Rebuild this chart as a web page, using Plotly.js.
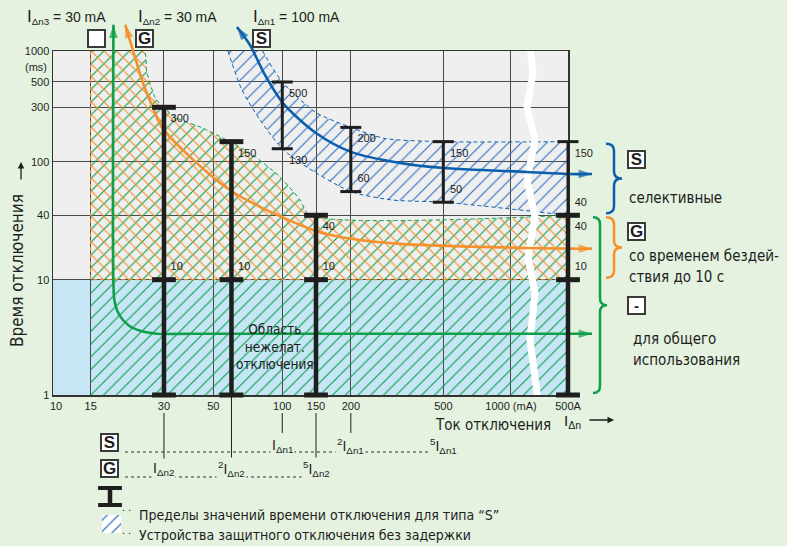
<!DOCTYPE html>
<html><head><meta charset="utf-8">
<script src="https://cdn.plot.ly/plotly-3.0.1.min.js"></script>
<style>html,body{margin:0;padding:0;background:#e4f2df;}#chart{width:787px;height:546px;}</style>
</head><body><div id="chart"></div>
<script>
// ================= DATA =================
const xTickValues = [10, 15, 30, 50, 100, 150, 200, 500, 1000, 500000];   // mA (500000 mA = 500 A)
const xTickLabels = ['\u00a0\u00a010', '15', '30', '50', '100', '150', '200', '500', '1000 (mA)', '500A'];
const yTickValues = [1, 10, 40, 100, 300, 500, 1000];                     // ms
const yTickLabels = ['1', '10', '40', '100', '300', '500', '1000'];

const ratingS = 100;        // IΔn1, type S
const ratingG = 30;         // IΔn2, type G
const ratingGeneral = 30;   // IΔn3, general use
const multiples = [1, 2, 5];

// type G / general-use limit bars (mA, ms)
const gBarCurrent = [30, 60, 150, 500000];
const gBarMax = [300, 150, 40, 40];
const gBarMin = [10, 10, 10, 10];
const generalMin = 1;
// type S limit bars
const sBarCurrent = [100, 200, 500, 500000];
const sBarMax = [500, 200, 150, 150];
const sBarMin = [130, 60, 50, 40];

// zone of unwanted tripping (t < 10 ms)
const noTripLimit = 10;
// left limit of the non-selective zone
const zoneMinCurrent = 15;
// non-selective (G / general) zone upper boundary
const nonSelI = [24.8, 25.5, 28, 34.3, 44.9, 72.3, 97.7, 123.7, 139.5];
const nonSelT = [1000, 625, 347, 242, 197, 119, 77, 52, 40];
const gZoneTop = 40;
// type S band
const bandUpperI = [82, 100, 150, 200, 280, 500, 500000];
const bandUpperT = [1000, 500, 270, 200, 160, 150, 150];
const bandLowerI = [57.9, 66.7, 80, 100, 134.6, 200, 300, 500, 500000];
const bandLowerT = [1000, 425, 232, 130, 91, 60, 52, 50, 40];
// indicative curves
const greenCurveI = [18.6, 18.6, 18.8, 19.6, 21.5, 24, 28, 40, 500000];
const greenCurveT = [1800, 9, 6.5, 5, 4, 3.6, 3.4, 3.4, 3.4];
const orangeCurveI = [20.8, 22.4, 24.6, 27, 29.6, 59, 144.6, 183, 326, 5775, 500000];
const orangeCurveT = [1800, 1000, 490, 300, 197, 61.6, 29.1, 25.1, 21.6, 19.8, 19.5];
const blueCurveI = [63.4, 72.3, 84, 100.8, 150, 200, 326, 500, 5775, 500000];
const blueCurveT = [1711, 1143, 585, 327, 178.5, 122, 97.8, 89.8, 83.9, 81];

// ================= LAYOUT HELPERS =================
const W = 787, H = 546, PL = 53, PR = 568, PT = 51, PB = 395;
const PW = PR - PL, PH = PB - PT;
const X_POS = [0, 0.0732, 0.2155, 0.3113, 0.4452, 0.5107, 0.5783, 0.7579, 0.8893, 1];
const Y_POS = [0, 0.3352, 0.5224, 0.6782, 0.8363, 0.9099, 1];
function mapLog(v, vals, pos) {
  const lv = Math.log10(v), L = vals.map(Math.log10);
  let i = 0;
  if (lv >= L[L.length - 1]) i = L.length - 2;
  else if (lv > L[0]) { while (lv > L[i + 1]) i++; }
  return pos[i] + (lv - L[i]) * (pos[i + 1] - pos[i]) / (L[i + 1] - L[i]);
}
const fx = v => mapLog(v, xTickValues, X_POS);
const fy = v => mapLog(v, yTickValues, Y_POS);
const pxX = px => (px - PL) / PW;
const pxY = py => (PB - py) / PH;

const PAPER = '#e4f2df', GRAY = '#efefef', LBLUE = '#c6e6f6';
const GREEN = '#0f9f4a', ORANGE = '#f5902a', BLUE = '#0b5fad', INK = '#1e1e1e', HBLUE = '#2f72c2';
const SANS = '"Liberation Sans", Arial, Helvetica, sans-serif';
const COND = '"Liberation Sans Narrow", "Arial Narrow", "DejaVu Sans Condensed", "Roboto Condensed", "Liberation Sans", sans-serif';

const traces = [];
const skip = {hoverinfo: 'skip'};
const NOLINE = {color: 'rgba(0,0,0,0)', width: 0};
const DASH = '4px,3px';

// ---- hatched zones (main subplot): base line + boundary filled 'tonexty' ----
function zone(tBottom, color, shape) {
  traces.push(Object.assign({type: 'scatter', xaxis: 'x', yaxis: 'y', mode: 'lines',
    x: [zoneMinCurrent, 500000].map(fx), y: [tBottom, tBottom].map(fy), line: NOLINE}, skip));
  traces.push(Object.assign({type: 'scatter', xaxis: 'x', yaxis: 'y', mode: 'lines',
    x: [zoneMinCurrent, ...nonSelI, 500000].map(fx), y: [1000, ...nonSelT, gZoneTop].map(fy),
    line: {color: 'rgba(0,0,0,0)', width: 0, shape: 'spline', smoothing: 0.7},
    fill: 'tonexty', fillcolor: 'rgba(0,0,0,0)',
    fillpattern: {shape: shape, fgcolor: color, bgcolor: 'rgba(0,0,0,0)', size: 9, solidity: 0.13}}, skip));
}
zone(generalMin, GREEN, '/');
zone(noTripLimit, ORANGE, '\\');
// zone outlines
traces.push(Object.assign({type: 'scatter', xaxis: 'x', yaxis: 'y', mode: 'lines',
  x: [zoneMinCurrent, ...nonSelI, 500000].map(fx), y: [1000, ...nonSelT, gZoneTop].map(fy),
  line: {color: GREEN, width: 1, dash: DASH, shape: 'spline', smoothing: 0.7}}, skip));
traces.push(Object.assign({type: 'scatter', xaxis: 'x', yaxis: 'y', mode: 'lines',
  x: [zoneMinCurrent, zoneMinCurrent, 500000].map(fx), y: [1000, noTripLimit, noTripLimit].map(fy),
  line: {color: ORANGE, width: 1, dash: DASH}}, skip));

// type S band
traces.push(Object.assign({type: 'scatter', xaxis: 'x', yaxis: 'y', mode: 'lines',
  x: bandLowerI.map(fx), y: bandLowerT.map(fy),
  line: {color: BLUE, width: 1, dash: DASH, shape: 'spline', smoothing: 0.7}}, skip));
traces.push(Object.assign({type: 'scatter', xaxis: 'x', yaxis: 'y', mode: 'lines',
  x: bandUpperI.map(fx), y: bandUpperT.map(fy),
  line: {color: BLUE, width: 1, dash: DASH, shape: 'spline', smoothing: 0.7},
  fill: 'tonexty', fillcolor: 'rgba(0,0,0,0)',
  fillpattern: {shape: '/', fgcolor: HBLUE, bgcolor: 'rgba(0,0,0,0)', size: 9, solidity: 0.13}}, skip));

// axis break (white zig-zag) — layout decoration
const breakPx = [[530, 46], [533, 73], [527, 107], [535, 140], [527, 180], [535, 217], [528, 257], [535, 293], [530, 340], [538, 400]];
traces.push(Object.assign({type: 'scatter', xaxis: 'x', yaxis: 'y', mode: 'lines',
  x: breakPx.map(p => pxX(p[0])), y: breakPx.map(p => pxY(p[1])),
  line: {color: '#ffffff', width: 7}}, skip));

// ---- curves with arrows (overlay subplot) ----
const ARROW_END_X = pxX(592);
function curve(I, T, color, topAngle) {
  const xs = [...I.map(fx), ARROW_END_X];
  const ys = [...T.map(fy), fy(T[T.length - 1])];
  const sizes = xs.map((_, k) => (k === 0 || k === xs.length - 1) ? 14 : 0);
  const angles = xs.map((_, k) => k === 0 ? topAngle : 90);
  return Object.assign({type: 'scatter', xaxis: 'x2', yaxis: 'y2', mode: 'lines+markers', x: xs, y: ys,
    line: {color: color, width: 2.6, shape: 'spline', smoothing: 0.8},
    marker: {symbol: 'arrow', size: sizes, angle: angles, angleref: 'up', color: color, line: {width: 0}}}, skip);
}
traces.push(curve(greenCurveI, greenCurveT, GREEN, 0));
traces.push(curve(orangeCurveI, orangeCurveT, ORANGE, -17));
traces.push(curve(blueCurveI, blueCurveT, BLUE, -36));

// ---- limit bars ----
function bars(cur, top, bot, width) {
  const xs = [], ys = [];
  cur.forEach((c, i) => { xs.push(fx(c), fx(c), null); ys.push(fy(top[i]), fy(bot[i]), null); });
  return Object.assign({type: 'scatter', xaxis: 'x2', yaxis: 'y2', mode: 'lines', x: xs, y: ys,
    line: {color: INK, width: width}}, skip);
}
traces.push(bars(sBarCurrent, sBarMax, sBarMin, 3));
traces.push(bars(gBarCurrent, gBarMax, gBarCurrent.map(() => generalMin), 4.5));
function caps(cur, vals, size, lw) {
  return Object.assign({type: 'scatter', xaxis: 'x2', yaxis: 'y2', mode: 'markers',
    x: cur.map(fx), y: vals.map(fy),
    marker: {symbol: 'line-ew', size: size, color: INK, line: {color: INK, width: lw}}}, skip);
}
traces.push(caps(sBarCurrent, sBarMax, 15, 3));
traces.push(caps(sBarCurrent, sBarMin, 15, 3));
traces.push(caps(gBarCurrent, gBarMax, 17, 5));
traces.push(caps(gBarCurrent, gBarMin, 17, 5));
traces.push(caps(gBarCurrent, gBarCurrent.map(() => generalMin), 17, 5));
function labels(cur, vals, pos) {
  return Object.assign({type: 'scatter', xaxis: 'x2', yaxis: 'y2', mode: 'markers+text',
    x: cur.map(fx), y: vals.map(fy), text: vals.map(String), textposition: pos,
    marker: {size: 9, color: 'rgba(0,0,0,0)'},
    textfont: {family: SANS, size: 11, color: INK}}, skip);
}
traces.push(labels(sBarCurrent, sBarMax, 'bottom right'));
traces.push(labels(sBarCurrent, sBarMin, ['bottom right', 'top right', 'top right', 'top right']));
traces.push(labels(gBarCurrent, gBarMax, 'bottom right'));
traces.push(labels(gBarCurrent, gBarMin, 'top right'));

// ---- multiples of rated currents under the axis ----
const S_ROW = 446, G_ROW = 469, TICKLABEL_BOTTOM = 413;
const connX = [], connY = [];
multiples.forEach((m, k) => {
  const g = m * ratingG;
  const hasTick = xTickValues.includes(g);
  connX.push(fx(g), fx(g), null); connY.push(pxY(hasTick ? TICKLABEL_BOTTOM : PB), pxY(G_ROW - 9), null);
  if (k < 2) { const s = m * ratingS; connX.push(fx(s), fx(s), null); connY.push(pxY(TICKLABEL_BOTTOM), pxY(S_ROW - 13), null); }
});
traces.push(Object.assign({type: 'scatter', xaxis: 'x2', yaxis: 'y2', mode: 'lines', x: connX, y: connY,
  line: {color: INK, width: 1}}, skip));
traces.push(Object.assign({type: 'scatter', xaxis: 'x2', yaxis: 'y2', mode: 'lines',
  x: [pxX(125), fx(multiples[2] * ratingS), null, pxX(125), fx(multiples[2] * ratingG)],
  y: [pxY(S_ROW + 6), pxY(S_ROW + 6), null, pxY(G_ROW + 8), pxY(G_ROW + 8)],
  line: {color: '#333', width: 1, dash: 'dot'}}, skip));

// ---- legend icons ----
traces.push(Object.assign({type: 'scatter', xaxis: 'x2', yaxis: 'y2', mode: 'lines+markers',
  x: [pxX(110), pxX(110)], y: [pxY(488), pxY(505)], line: {color: INK, width: 4.5},
  marker: {symbol: 'line-ew', size: 17, color: INK, line: {color: INK, width: 4}}}, skip));
traces.push(Object.assign({type: 'scatter', xaxis: 'x2', yaxis: 'y2', mode: 'lines',
  x: [pxX(102), pxX(121), pxX(121), pxX(102), pxX(102)], y: [pxY(515), pxY(515), pxY(533), pxY(533), pxY(515)],
  line: NOLINE, fill: 'toself', fillcolor: '#ffffff',
  fillpattern: {shape: '/', fgcolor: HBLUE, bgcolor: '#ffffff', size: 8, solidity: 0.15}}, skip));

// ================= SHAPES =================
function bracePath(xl, xt, yTop, yBot, r) {
  const xm = (xl + xt) / 2, yTip = (yTop + yBot) / 2;
  return `M ${xl},${yTop} Q ${xm},${yTop} ${xm},${yTop - r} L ${xm},${yTip + r} Q ${xm},${yTip} ${xt},${yTip} ` +
         `Q ${xm},${yTip} ${xm},${yTip - r} L ${xm},${yBot + r} Q ${xm},${yBot} ${xl},${yBot}`;
}
const R = 7 / PH, GAP = 2 / PH;
const shapes = [
  {type: 'rect', xref: 'x', yref: 'y', x0: 0, x1: 1, y0: 0, y1: 1, fillcolor: GRAY, line: {width: 0}, layer: 'below'},
  {type: 'rect', xref: 'x', yref: 'y', x0: fx(xTickValues[0]), x1: fx(500000), y0: fy(generalMin), y1: fy(noTripLimit),
   fillcolor: LBLUE, line: {width: 0}, layer: 'below'},
  {type: 'path', xref: 'x2', yref: 'y2', path: bracePath(pxX(606), pxX(622), fy(sBarMax[3]) - GAP, fy(sBarMin[3]) + GAP, R),
   line: {color: BLUE, width: 2.5}},
  {type: 'path', xref: 'x2', yref: 'y2', path: bracePath(pxX(606), pxX(622), fy(gZoneTop) - GAP, fy(noTripLimit) + GAP, R),
   line: {color: ORANGE, width: 2.5}},
  {type: 'path', xref: 'x2', yref: 'y2', path: bracePath(pxX(593), pxX(607), fy(gZoneTop) - GAP, fy(generalMin) + GAP, R),
   line: {color: GREEN, width: 2.5}}
];

// ================= ANNOTATIONS =================
function txt(x, y, text, size, family, extra) {
  return Object.assign({xref: 'x2', yref: 'y2', x: pxX(x), y: pxY(y), text: text, showarrow: false,
    font: {family: family || SANS, size: size, color: INK}, xanchor: 'center', yanchor: 'middle'}, extra || {});
}
function box(x, y, letter, size) {
  return txt(x, y, letter ? `<b>${letter}</b>` : '\u00a0', size || 17, SANS,
    {bgcolor: '#ffffff', bordercolor: '#3a3a3a', borderwidth: 2, borderpad: 0, width: 15, height: 15});
}
const bigI = '<span style="font-size:17px">I</span>';
const ann = [
  txt(66, 17, `${bigI}<sub>Δn3</sub> = ${ratingGeneral} mA`, 14),
  txt(177, 17, `${bigI}<sub>Δn2</sub> = ${ratingG} mA`, 14),
  txt(296, 17, `${bigI}<sub>Δn1</sub> = ${ratingS} mA`, 14),
  box(96, 38, ''), box(144, 38, 'G'), box(261, 38, 'S'),
  txt(36, 67, '(ms)', 11),
  txt(17, 271, 'Время отключения', 17, COND, {textangle: -90}),
  {xref: 'x2', yref: 'y2', axref: 'x2', ayref: 'y2', x: pxX(21), y: pxY(162), ax: pxX(21), ay: pxY(181),
   text: '', showarrow: true, arrowhead: 2, arrowsize: 1, arrowwidth: 1.3, arrowcolor: INK},
  txt(493, 425, 'Ток отключения', 15, COND),
  txt(572, 421, `I<sub>Δn</sub>`, 15),
  {xref: 'x2', yref: 'y2', axref: 'x2', ayref: 'y2', x: pxX(614), y: pxY(420), ax: pxX(588), ay: pxY(420),
   text: '', showarrow: true, arrowhead: 2, arrowsize: 1, arrowwidth: 1.3, arrowcolor: INK},
  txt(fx(93) * PW + PL, PB - fy(2.66) * PH, 'Область<br>нежелат.<br>отключения', 13.5, COND),
  // right-hand explanations
  box(636, 159, 'S'), txt(627, 198, 'селективные', 15, COND, {xanchor: 'left'}),
  box(636, 231, 'G'), txt(627, 256, 'со временем бездей-', 15, COND, {xanchor: 'left'}),
  txt(627, 277, 'ствия до 10 с', 15, COND, {xanchor: 'left'}),
  box(636, 305, '-', 15), txt(631, 339, 'для общего', 15, COND, {xanchor: 'left'}),
  txt(631, 360, 'использования', 15, COND, {xanchor: 'left'}),
  // bottom rows
  box(109, 442, 'S'), box(109, 468, 'G'),
  // legend
  txt(126, 507, '. .', 11), txt(126, 530, '. .', 11),
  txt(137, 515, 'Пределы значений времени отключения для типа “S”', 14, COND, {xanchor: 'left'}),
  txt(137, 535, 'Устройства защитного отключения без задержки', 14, COND, {xanchor: 'left'})
];
multiples.forEach(m => {
  const pre = m === 1 ? '' : `<sup>${m}</sup>`;
  ann.push(txt(fx(m * ratingS) * PW + PL, S_ROW, `${pre}I<sub>Δn1</sub>`, 14, SANS, {bgcolor: PAPER, borderpad: 1}));
  ann.push(txt(fx(m * ratingG) * PW + PL, G_ROW, `${pre}I<sub>Δn2</sub>`, 14, SANS, {bgcolor: PAPER, borderpad: 1}));
});

// ================= LAYOUT =================
const layout = {
  width: W, height: H, margin: {l: 0, r: 0, t: 0, b: 0},
  paper_bgcolor: PAPER, plot_bgcolor: 'rgba(0,0,0,0)', showlegend: false,
  font: {family: SANS, size: 11, color: INK},
  xaxis: {domain: [PL / W, PR / W], range: [0, 1], anchor: 'y', tickmode: 'array',
    tickvals: xTickValues.map(fx), ticktext: xTickLabels, ticks: '', tickfont: {size: 11, family: SANS},
    showgrid: true, gridcolor: '#4a4a4a', gridwidth: 1, zeroline: false,
    showline: true, mirror: true, linecolor: '#333', linewidth: 1.5, fixedrange: true, automargin: false},
  yaxis: {domain: [(H - PB) / H, (H - PT) / H], range: [0, 1], anchor: 'x', tickmode: 'array',
    tickvals: yTickValues.map(fy), ticktext: yTickLabels, ticks: '', tickfont: {size: 11, family: SANS},
    showgrid: true, gridcolor: '#4a4a4a', gridwidth: 1, zeroline: false,
    showline: true, mirror: true, linecolor: '#333', linewidth: 1.5, fixedrange: true, automargin: false},
  xaxis2: {domain: [0, 1], range: [-PL / PW, (W - PL) / PW], anchor: 'y2', visible: false, fixedrange: true},
  yaxis2: {domain: [0, 1], range: [(PB - H) / PH, PB / PH], anchor: 'x2', visible: false, fixedrange: true},
  shapes: shapes, annotations: ann
};
Plotly.newPlot('chart', traces, layout, {displayModeBar: false, staticPlot: true});
</script></body></html>
